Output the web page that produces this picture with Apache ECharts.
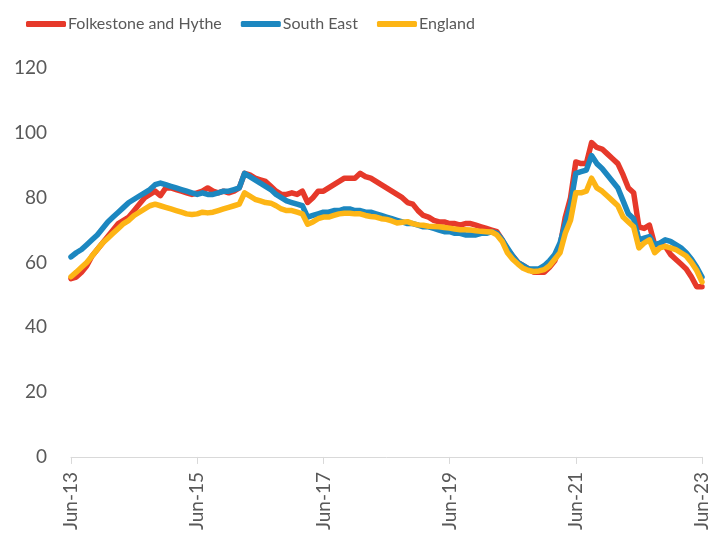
<!DOCTYPE html>
<html>
<head>
<meta charset="utf-8">
<script src="https://cdn.jsdelivr.net/npm/echarts@6/dist/echarts.min.js"></script>
<style>
  html, body { margin: 0; padding: 0; background: #ffffff; }
  #chart { width: 724px; height: 533px; }
</style>
</head>
<body>
<div id="chart"></div>
<script>
// 月份：Jun-13 .. Jun-23
const monthNames = ['Jan', 'Feb', 'Mar', 'Apr', 'May', 'Jun', 'Jul', 'Aug', 'Sep', 'Oct', 'Nov', 'Dec'];
const months = [];
for (let i = 0; i <= 120; i++) {
    const m = (5 + i) % 12;
    const y = 13 + Math.floor((5 + i) / 12);
    months.push(monthNames[m] + '-' + y);
}

const seriesNames = ['Folkestone and Hythe', 'South East', 'England'];

const folkestone = [
    55, 55.5, 57, 59, 62, 64, 66, 68, 70, 72, 73, 74, 76, 78, 80, 81, 82, 80.6, 83, 83,
    82.5, 82, 81.5, 81, 81.5, 82, 83, 82, 81.5, 82, 81.5, 82, 83, 87.5, 87, 86, 85.5, 85, 83.5, 82,
    81, 81, 81.5, 81, 82, 78.5, 80, 82, 82, 83, 84, 85, 86, 86, 86, 87.5, 86.5, 86, 85, 84,
    83, 82, 81, 80, 78.5, 78, 76, 74.5, 74, 73, 72.5, 72.5, 72, 72, 71.5, 72, 72, 71.5, 71, 70.5,
    70, 69.5, 67, 64, 62, 60, 59, 58, 57, 57, 57, 58.5, 60.5, 65, 74, 80, 91, 90.5, 90.5, 97,
    95.5, 95, 93.5, 92, 90.5, 87, 83, 81.5, 71, 70.5, 71.5, 65.5, 65.5, 65, 62.5, 61, 59.5, 58, 55.5, 52.5,
    52.5
];

const southEast = [
    61.7, 63, 64, 65.5, 67, 68.5, 70.5, 72.5, 74, 75.5, 77, 78.5, 79.5, 80.5, 81.5, 82.5, 84, 84.5, 84, 83.5,
    83, 82.5, 82, 81.5, 81, 81.5, 81, 81, 81.5, 82, 82, 82.5, 83, 87.5, 86.5, 85.5, 84.5, 83.5, 82.5, 81,
    80, 79, 78.5, 78, 77.5, 74, 74.5, 75, 75.5, 75.5, 76, 76, 76.5, 76.5, 76, 76, 75.5, 75.5, 75, 74.5,
    74, 73.5, 73, 72.5, 72, 72, 71.5, 71, 71, 70.5, 70, 69.5, 69.5, 69, 69, 68.5, 68.5, 68.5, 69, 69,
    69.5, 69, 67, 64.5, 62, 60, 59, 58, 58, 58, 59, 60.5, 62.5, 66, 72, 78, 87.5, 88, 88.5, 93,
    90.5, 89, 87, 85, 83, 79, 75, 73.5, 67, 67.5, 68, 65.5, 66, 67, 66.5, 65.5, 64.5, 63, 61, 58.5,
    55.5
];

const england = [
    55.6, 57, 58.5, 60, 62, 64, 66, 67.5, 69, 70.5, 72, 73, 74.5, 75.5, 76.5, 77.5, 78, 77.5, 77, 76.5,
    76, 75.5, 75, 74.8, 75, 75.5, 75.3, 75.5, 76, 76.5, 77, 77.5, 78, 81.5, 80.5, 79.5, 79, 78.5, 78.3, 77.5,
    76.5, 76, 76, 75.5, 75, 71.8, 72.5, 73.5, 74, 74, 74.5, 75, 75.2, 75.2, 75, 75, 74.5, 74.2, 74, 73.5,
    73.3, 72.8, 72.2, 72.4, 72.6, 72, 71.6, 71.5, 71.2, 71.1, 71, 70.8, 70.6, 70.3, 70.1, 70.1, 70, 69.8, 69.6, 69.5,
    69.4, 68.5, 66.5, 63, 61, 59.5, 58.2, 57.5, 57.2, 57.4, 57.8, 59, 61, 63, 69, 73, 81.5, 81.5, 82, 86,
    83, 82, 80.5, 79, 77.5, 74, 72.5, 71, 64.5, 66, 67, 63, 64.5, 65, 64.5, 64, 63, 62, 60, 57.5,
    54
];

const yTicks = [0, 20, 40, 60, 80, 100, 120];
const colors = ['#E6392A', '#1C87C0', '#FDB515'];
const textColor = '#595959';
const fontFamily = 'Lato, "Open Sans", sans-serif';

const chart = echarts.init(document.getElementById('chart'), null, { renderer: 'canvas' });

const dataSets = [folkestone, southEast, england];

const option = {
    animation: false,
    color: colors,
    textStyle: { fontFamily: fontFamily },
    legend: {
        data: seriesNames,
        left: 21,
        top: 11,
        icon: 'roundRect',
        itemWidth: 40,
        itemHeight: 6,
        itemGap: 19,
        textStyle: {
            fontSize: 16,
            color: textColor,
            fontFamily: fontFamily,
            padding: [0, 0, 0, -3]
        }
    },
    grid: { left: 71, right: 22, top: 68, bottom: 76 },
    xAxis: {
        type: 'category',
        data: months,
        boundaryGap: false,
        axisLine: { show: true, lineStyle: { color: '#D9D9D9', width: 1 } },
        axisTick: {
            show: true,
            length: 7,
            lineStyle: { color: '#D9D9D9' },
            interval: (idx) => idx % 24 === 0
        },
        axisLabel: {
            rotate: 90,
            fontSize: 19,
            color: textColor,
            margin: 15,
            interval: (idx) => idx % 24 === 0
        },
        splitLine: { show: false }
    },
    yAxis: {
        type: 'value',
        min: yTicks[0],
        max: yTicks[yTicks.length - 1],
        interval: 20,
        axisLine: { show: false },
        axisTick: { show: false },
        splitLine: { show: false },
        axisLabel: { fontSize: 19, color: textColor, margin: 24 }
    },
    series: seriesNames.map((name, k) => ({
        name: name,
        type: 'line',
        data: dataSets[k],
        symbol: 'none',
        smooth: false,
        lineStyle: { width: 5.5, color: colors[k], cap: 'round', join: 'round' },
        itemStyle: { color: colors[k] },
        z: 2 + k
    }))
};

chart.setOption(option);
</script>
</body>
</html>
